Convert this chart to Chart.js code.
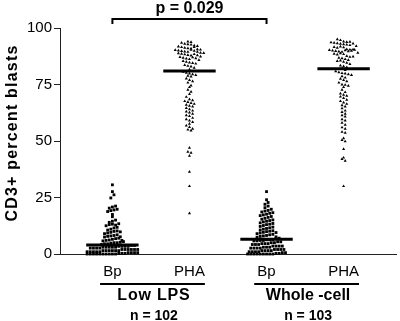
<!DOCTYPE html>
<html>
<head>
<meta charset="utf-8">
<script src="https://cdn.jsdelivr.net/npm/chart.js@4.4.1/dist/chart.umd.min.js"></script>
<style>
  body { margin: 0; background: #fff; }
  #chart { display: block; }
</style>
</head>
<body>
<canvas id="chart" width="400" height="321"></canvas>
<script>
// Categories and labels
const categories = ["Bp", "PHA", "Bp", "PHA"];
const groupNames = ["Low LPS", "Whole -cell"];
const groupSizes = ["n = 102", "n = 103"];
const yTicks = [0, 25, 50, 75, 100];
const yTitle = "CD3+ percent blasts";
const pLabel = "p = 0.029";

// CD3+ percent blasts
const lowLpsBp = [
    0, 0, 0, 0, 0, 0, 0, 0, 0, 0, 0.3, 0.3, 0.3, 0.6, 0.6, 0.6, 0.6,
    1, 1, 1, 1, 1, 1.5, 1.5, 1.5, 1.5, 1.5, 1.5, 2, 2, 2, 2, 2, 2,
    2.6, 2.6, 2.6, 2.6, 3, 3, 3, 3, 3, 3.4, 3.4, 3.4, 3.4, 3.8, 3.8,
    4.2, 4.5, 4.5, 4.8, 5, 5, 5.2, 5.5,
    5.8, 6, 6.2, 6.5, 6.8, 7, 6,
    7.5, 7.8, 8, 8.2, 8.5, 7.6,
    9, 9.3, 9.6, 10, 10.2, 9.8,
    10.6, 11, 11.5, 11.8,
    12.5, 13, 13.2, 12.8, 13.4,
    14, 14.5, 15, 16.5, 17.5,
    18.8, 19.2, 19.5, 19.8, 20.3, 20.8, 21.2,
    24.8, 26.2, 27.6, 30.6
];
const lowLpsPha = [
    94, 93.8, 93.4, 93, 92.8, 92.6,
    92.2, 92, 91.8, 91.5, 91.2, 91, 90.9, 91.6,
    90.6, 90.4, 90.2, 90, 89.8, 89.6, 89.4, 90.3, 89.9, 89.5,
    89, 88.8, 88.6, 88.3, 88, 87.8, 88.9, 88.4, 87.9,
    87.4, 87.1, 86.8, 86.5, 86.2, 87, 86.6,
    85.8, 85.4, 85, 84.7, 84.5,
    84.2, 83.6, 83.2, 82.9, 82.4, 81.6,
    80.6, 80.2, 79.8, 79.5, 79.2, 78.8, 78.5,
    77.6, 77, 76.4, 75.8,
    74.5, 73.8, 72.6, 71.8, 70.8,
    69.5, 68.4, 68, 67.6, 67.2, 66.8, 66.4, 66, 65.6, 65.2,
    64.6, 64, 63.4, 63, 62.6, 62, 61.4, 61,
    60.2, 59.6, 59, 58.4, 57.6, 56.8, 56.2, 55.4, 55,
    54.6, 47, 45.2, 44.8, 43.4, 36.4, 30, 18
];
const wholeCellBp = [
    0, 0, 0, 0, 0, 0, 0, 0, 0, 0.3, 0.3, 0.6, 0.6,
    1, 1, 1, 1, 1.5, 1.5, 1.5, 1.5, 2, 2, 2, 2,
    2.6, 2.6, 2.6, 2.6, 3, 3, 3, 3.5, 3.5, 3.5, 3.5,
    4.2, 4.2, 4.2, 4.6, 4.6, 4.6, 5, 5, 5.4, 5.4,
    5.8, 5.8, 6, 6, 6.3, 6.3, 6.3, 6.8, 7,
    7.4, 7.8, 8, 8.2, 8.5, 8.7, 7.6,
    9, 9.3, 9.6, 9.9, 10.1, 10.3, 9.5,
    10.6, 11, 11.3, 11.6, 11.9,
    12.2, 12.6, 13, 13.2, 13.5,
    13.8, 14.2, 14.5, 14.8, 15.1,
    15.4, 15.8, 16.2, 16.6,
    17, 17.3, 17.6, 18, 18.3,
    18.6, 19, 19.3, 19.8,
    20.5, 21.2, 22, 22.8, 24, 27.6
];
const wholeCellPha = [
    95, 94.6,
    94, 93.8, 93.6, 93.4, 93.2, 93, 92.8, 92.6, 92.4, 93.9, 93.1,
    92, 91.6, 91.2, 91.8, 91.4,
    90.6, 90.4, 90.2, 90, 89.8, 89.6, 89.4, 90.5, 90.1, 89.7, 89.9, 90.3,
    89, 88.6, 88.2, 88.8, 88.4,
    87.6, 87.2, 86.8, 87.4, 86.6,
    86.2, 85.8, 85.4, 85.6, 85,
    84.6, 84, 83.4, 83, 82.6, 82.2,
    81.4, 80.8, 80.4, 80, 79.8, 79.5, 79.2,
    78.6, 78, 77.5, 77, 76.4, 75.8, 75, 74.8, 74.4, 73.8,
    72.6, 71.6, 71, 70.4, 70, 69.6, 69, 68.2, 67.6, 67, 66.4, 65.8, 65.2,
    64.4, 63.4, 62.8, 62, 61.4, 60.8, 59.6, 59, 58, 57.2,
    56, 55.4, 54, 53.6,
    51.2, 50.4, 49.8, 46.4, 42.6, 42, 41.2, 30
];
const medians = [4, 81, 6.5, 82];

const FONT = "'Liberation Sans', Arial, Helvetica, sans-serif";

// Spread points of similar value side by side (scatter dot plot look)
function swarm(values, center) {
    const rowSize = 1.6;   // value units per row, about one marker tall
    const step = 0.041;    // x spacing between markers in one row
    const rows = new Map();
    values.forEach(v => {
        const key = Math.round(v / rowSize);
        if (!rows.has(key)) rows.set(key, []);
        rows.get(key).push(v);
    });
    const points = [];
    rows.forEach(row => {
        row.forEach((v, i) => {
            points.push({ x: center + (i - (row.length - 1) / 2) * step, y: v });
        });
    });
    return points;
}

const seriesList = [lowLpsBp, lowLpsPha, wholeCellBp, wholeCellPha];

const pointSets = seriesList.map((values, i) => ({
    type: "scatter",
    data: swarm(values, i + 1),
    pointStyle: categories[i] === "Bp" ? "rect" : "triangle",
    pointRadius: categories[i] === "Bp" ? 2 : 1.8,
    backgroundColor: "#000",
    borderWidth: 0,
    clip: false
}));

const medianSets = medians.map((m, i) => ({
    type: "line",
    data: [{ x: i + 1 - 0.34, y: m }, { x: i + 1 + 0.34, y: m }],
    borderColor: "#000",
    borderWidth: 3,
    pointRadius: 0,
    clip: false
}));

// Extra text and brackets around the plot
const extras = {
    id: "extras",
    afterDraw(chart) {
        const { ctx, scales: { x, y }, chartArea } = chart;
        ctx.save();
        ctx.fillStyle = "#000";
        ctx.strokeStyle = "#000";

        // y axis title
        ctx.save();
        ctx.translate(13, 133);
        ctx.rotate(-Math.PI / 2);
        ctx.font = "bold 16px " + FONT;
        ctx.letterSpacing = "1.2px";
        ctx.textAlign = "center";
        ctx.textBaseline = "middle";
        ctx.fillText(yTitle, 0, 0);
        ctx.restore();

        // significance bracket between the two Bp columns
        const bx1 = x.getPixelForValue(1);
        const bx2 = x.getPixelForValue(3);
        const by = y.getPixelForValue(104);
        ctx.lineWidth = 2;
        ctx.beginPath();
        ctx.moveTo(bx1, by + 5);
        ctx.lineTo(bx1, by);
        ctx.lineTo(bx2, by);
        ctx.lineTo(bx2, by + 5);
        ctx.stroke();
        ctx.font = "bold 16px " + FONT;
        ctx.textAlign = "center";
        ctx.textBaseline = "alphabetic";
        ctx.fillText(pLabel, (bx1 + bx2) / 2, by - 6);

        // group underlines and names
        groupNames.forEach((name, g) => {
            const left = x.getPixelForValue(g * 2 + 1 - 0.16);
            const right = x.getPixelForValue(g * 2 + 2 + 0.2);
            const ly = chartArea.bottom + 30;
            ctx.lineWidth = 2;
            ctx.beginPath();
            ctx.moveTo(left, ly);
            ctx.lineTo(right, ly);
            ctx.stroke();
            const mid = (x.getPixelForValue(g * 2 + 1) + x.getPixelForValue(g * 2 + 2)) / 2 + 3;
            ctx.font = "bold 16px " + FONT;
            ctx.letterSpacing = g === 0 ? "0.8px" : "0px";
            ctx.fillText(name, mid, chartArea.bottom + 46);
            ctx.letterSpacing = "0px";
            ctx.font = "bold 14px " + FONT;
            ctx.fillText(groupSizes[g], mid, chartArea.bottom + 66);
        });
        ctx.restore();
    }
};

new Chart(document.getElementById("chart"), {
    data: { datasets: [...pointSets, ...medianSets] },
    options: {
        responsive: false,
        animation: false,
        layout: { padding: { top: 28, right: 0, bottom: 0, left: 0 } },
        plugins: { legend: { display: false }, tooltip: { enabled: false } },
        scales: {
            x: {
                type: "linear",
                min: 0.32,
                max: 4.68,
                afterBuildTicks: scale => { scale.ticks = categories.map((c, i) => ({ value: i + 1 })); },
                afterFit: scale => { scale.height = 67; },
                grid: { display: false, drawTicks: false },
                border: { display: true, color: "#222", width: 1 },
                ticks: {
                    padding: 9,
                    color: "#000",
                    font: { family: FONT, size: 15 },
                    callback: v => categories[Math.round(v) - 1]
                }
            },
            y: {
                min: 0,
                max: 100,
                afterBuildTicks: scale => { scale.ticks = yTicks.map(v => ({ value: v })); },
                afterFit: scale => { scale.width = 60; },
                grid: { drawOnChartArea: false, tickLength: 6, color: "#222" },
                border: { display: true, color: "#222", width: 1 },
                ticks: {
                    padding: 2,
                    color: "#000",
                    font: { family: FONT, size: 15 }
                }
            }
        }
    },
    plugins: [extras]
});
</script>
</body>
</html>
